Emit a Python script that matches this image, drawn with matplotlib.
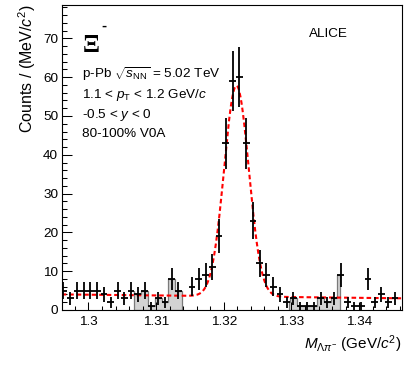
import numpy as np
import matplotlib
matplotlib.use('Agg')
import matplotlib.pyplot as plt
from matplotlib.ticker import MultipleLocator

plt.rcParams['font.family'] = ['Liberation Sans', 'DejaVu Sans']
plt.rcParams['mathtext.fontset'] = 'custom'
plt.rcParams['mathtext.rm'] = 'Liberation Sans'
plt.rcParams['mathtext.it'] = 'Liberation Sans:italic'
plt.rcParams['mathtext.bf'] = 'Liberation Sans:bold'

# Lambda pi- invariant mass, 1 MeV bins starting at bin_lo
bin_lo = 1.2958
bin_width = 0.001
counts = [5, 3, 5, 5, 5, 5, 4, 2, 5, 3,
          5, 4, 5, 1, 3, 2, 8, 5, 0, 6,
          8, 9, 11, 19, 43, 59, 60, 43, 23, 12,
          9, 6, 4, 2, 3, 1, 1, 1, 3, 2,
          3, 9, 2, 1, 1, 8, 2, 4, 2, 3]

# gaussian + linear background fit
fit_mean = 1.32187
fit_sigma = 0.00182
fit_amp = 54.3
bkg_p0 = 3.5     # at fit_mean
bkg_p1 = -20.0   # per GeV/c2

# side bands (gray)
sidebands = [(1.3067, 1.3139), (1.3297, 1.3371)]

x_range = (1.29605, 1.34626)
y_range = (0, 78.6)

counts = np.array(counts, dtype=float)
edges = bin_lo + bin_width * np.arange(len(counts) + 1)
centers = 0.5 * (edges[:-1] + edges[1:])

fig = plt.figure(figsize=(4.11, 3.65), dpi=100)
ax = fig.add_axes([61.7 / 411, 1 - 310 / 365, 339.8 / 411, 305 / 365])

# side band histograms
for lo, hi in sidebands:
    inner = edges[(edges > lo) & (edges < hi)]
    xs = np.concatenate([[lo], inner, [hi]])
    idx = np.searchsorted(edges, xs[:-1], side='right') - 1
    ys = counts[idx]
    px = [xs[0]]
    py = [0]
    for i in range(len(ys)):
        px += [xs[i], xs[i + 1]]
        py += [ys[i], ys[i]]
    px.append(xs[-1])
    py.append(0)
    ax.fill(px, py, facecolor='#d3d3d3', edgecolor='#7a7a7a', lw=0.9, zorder=1)

# fit curve
xf = np.linspace(x_range[0], x_range[1], 600)
yf = fit_amp * np.exp(-0.5 * ((xf - fit_mean) / fit_sigma) ** 2) + bkg_p0 + bkg_p1 * (xf - fit_mean)
ax.plot(xf, yf, color='#ff0000', lw=1.5, ls=(0, (2.2, 1.4)), zorder=3)

# data points
keep = counts > 0
ax.errorbar(centers[keep], counts[keep], xerr=bin_width / 2, yerr=np.sqrt(counts[keep]),
            fmt='none', ecolor='black', elinewidth=1.3, capsize=0, zorder=4)

ax.set_xlim(*x_range)
ax.set_ylim(*y_range)
ax.xaxis.set_major_locator(MultipleLocator(0.01))
ax.xaxis.set_minor_locator(MultipleLocator(0.002))
ax.yaxis.set_major_locator(MultipleLocator(10))
ax.yaxis.set_minor_locator(MultipleLocator(2))
ax.xaxis.set_major_formatter(plt.FuncFormatter(lambda v, p: f'{v:g}'))
ax.tick_params(axis='x', which='major', direction='in', length=5.8, width=0.75, labelsize=9.7, pad=4)
ax.tick_params(axis='x', which='minor', direction='in', length=2.9, width=0.75)
ax.tick_params(axis='y', which='major', direction='in', length=7.2, width=0.75, labelsize=9.7, pad=2.5)
ax.tick_params(axis='y', which='minor', direction='in', length=3.6, width=0.75)
for s in ax.spines.values():
    s.set_linewidth(0.8)

ax.set_ylabel('Counts / (MeV/$c^{2}$)', loc='top', fontsize=11.5, labelpad=4)
ax.set_xlabel(r'$M_{\Lambda\pi^{-}}$ (GeV/$c^{2}$)', loc='right', fontsize=11, labelpad=4)

ax.text(0.062, 0.846, 'Ξ', transform=ax.transAxes, fontsize=18, fontweight='bold',
        va='baseline', family=['Liberation Serif'])
ax.text(0.117, 0.931, '-', transform=ax.transAxes, fontsize=11, fontweight='bold', va='center')
ax.text(0.784, 0.895, 'ALICE', transform=ax.transAxes, fontsize=9.7, ha='center', va='baseline')
lines = [r'p-Pb $\sqrt{s_{\mathrm{NN}}}$ = 5.02 TeV',
         r'1.1 < $p_{\mathrm{T}}$ < 1.2 GeV/$c$',
         r'-0.5 < $y$ < 0',
         '80-100% V0A']
for txt, yb in zip(lines, [0.761, 0.695, 0.630, 0.567]):
    ax.text(0.060, yb, txt, transform=ax.transAxes, fontsize=9.7, va='baseline')

fig.savefig('out.png', dpi=100)
